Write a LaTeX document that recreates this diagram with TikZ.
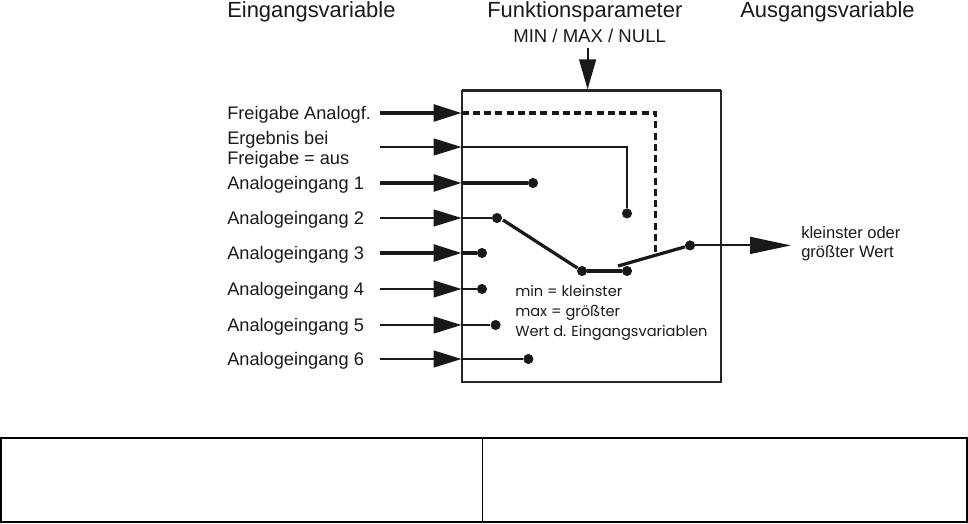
\documentclass[tikz,border=0pt]{standalone}
\usepackage{fontspec}
\setmainfont{Liberation Sans}
\newfontfamily\notefont{Poppins}
\usetikzlibrary{arrows.meta,positioning,calc}

\begin{document}
\begin{tikzpicture}[
    heading/.style={inner sep=0pt,font=\fontsize{15.6pt}{18pt}\selectfont,text=black!90},
    signal/.style={inner sep=0pt,anchor=west,align=left,font=\fontsize{12.95pt}{14.2pt}\selectfont,text=black!90},
    outlabel/.style={inner sep=0pt,anchor=west,align=left,font=\fontsize{11.75pt}{13.5pt}\selectfont,text=black!90},
    note/.style={inner sep=0pt,anchor=west,align=left,font=\fontsize{10.4pt}{14pt}\selectfont\notefont,text=black!90},
    terminal/.style={circle,fill=black!90,minimum size=7.2pt,inner sep=0pt},
    wire/.style={draw=black!90,line width=1.25pt},
    thickwire/.style={draw=black!90,line width=2.3pt},
    dashedwire/.style={draw=black!90,line width=2.3pt,dash pattern=on 5pt off 3pt},
    contact/.style={draw=black!90,line width=2.3pt},
    inhead/.style={-{Triangle[length=7mm,width=4.2mm]},draw=black!90},
    outhead/.style={-{Triangle[length=10.2mm,width=4.2mm]},draw=black!90,line width=1.35pt},
    tophead/.style={-{Triangle[length=7.5mm,width=4.2mm]},draw=black!90,line width=1.4pt},
    frame/.style={draw=black!85,line width=1.5pt},
    tableframe/.style={draw=black,line width=1.4pt}
  ]
    \useasboundingbox (0,0) rectangle (24.2,13.075);

    \node[heading,anchor=west] (inputs) at (5.675,12.79) {Eingangsvariable};
    \node[heading] (params) at (14.62,12.79) {Funktionsparameter};
    \node[heading,anchor=west] (outputs) at (18.50,12.77) {Ausgangsvariable};
    \node[signal,anchor=center,font=\fontsize{13.2pt}{14.2pt}\selectfont] (limits) at (14.74,12.19) {MIN / MAX / NULL};

    % function block
    \draw[frame] (11.54,10.80) rectangle (18.02,3.525);
    \draw[draw=black!85,line width=0.7pt] (11.54,10.85) -- (18.02,10.85);

    \node[signal] (lblenable) at (5.675,10.21) {Freigabe Analogf.};
    \node[signal] (lblresult) at (5.675,9.33) {Ergebnis bei\\Freigabe = aus};
    \foreach \n/\y in {1/8.46,2/7.585,3/6.71,4/5.81,5/4.91,6/4.06} {
      \node[signal] (lbl\n) at (5.675,\y) {Analogeingang \n};
    }

    \foreach \n/\y in {enable/10.25,result/9.40,1/8.50,2/7.625,3/6.75,4/5.85,5/4.95,6/4.10} {
      \coordinate (start\n) at (9.50,\y);
      \coordinate (entry\n) at (11.54,\y);
    }

    \node[terminal] (term1) at (13.325,8.50) {};
    \node[terminal] (term2) at (12.425,7.625) {};
    \node[terminal] (term3) at (12.05,6.75) {};
    \node[terminal] (term4) at (12.05,5.85) {};
    \node[terminal] (term5) at (12.39,4.95) {};
    \node[terminal] (term6) at (13.21,4.10) {};
    \node[terminal] (termresult) at (15.675,7.74) {};
    \node[terminal] (termmin) at (14.55,6.30) {};
    \node[terminal] (termmax) at (15.675,6.30) {};
    \node[terminal] (termout) at (17.25,6.94) {};

    % inputs
    \foreach \n in {enable,1,3} {
      \draw[thickwire,inhead] (start\n) -- (entry\n);
    }
    \foreach \n in {result,2,4,5,6} {
      \draw[wire,inhead] (start\n) -- (entry\n);
    }
    \draw[thickwire] (entry1) -- (term1);
    \draw[thickwire] (entry3) -- (term3);
    \foreach \n in {2,4,5,6} {
      \draw[wire] (entry\n) -- (term\n);
    }
    \draw[wire] (entryresult) -| (termresult);

    % switch
    \coordinate (contactleft) at (12.575,7.575);
    \coordinate (contactright) at (15.45,6.425);
    \coordinate (enableend) at (16.39,6.72);
    \draw[contact] (contactleft) -- (termmin);
    \draw[contact] (termmin) -- (termmax);
    \draw[contact] (contactright) -- (termout);
    \draw[dashedwire] (entryenable) -| (enableend);

    \node[note] (explain) at (12.875,5.25) {min = kleinster\\max = größter\\Wert d. Eingangsvariablen};

    % output
    \coordinate (outtip) at (19.775,6.925);
    \draw[outhead] (termout) -- (termout -| outtip);
    \node[outlabel] (lblout) at (20.025,6.97) {kleinster oder\\größter Wert};

    % parameter
    \coordinate (paramstart) at (14.69,11.875);
    \coordinate (paramend) at (14.69,10.84);
    \draw[tophead] (paramstart) -- (paramend);

    % empty table below
    \draw[tableframe] (0.025,2.1175) rectangle (24.17,0.025);
    \draw[draw=black,line width=0.7pt] (12.05,2.1175) -- (12.05,0.025);
  \end{tikzpicture}
\end{document}
